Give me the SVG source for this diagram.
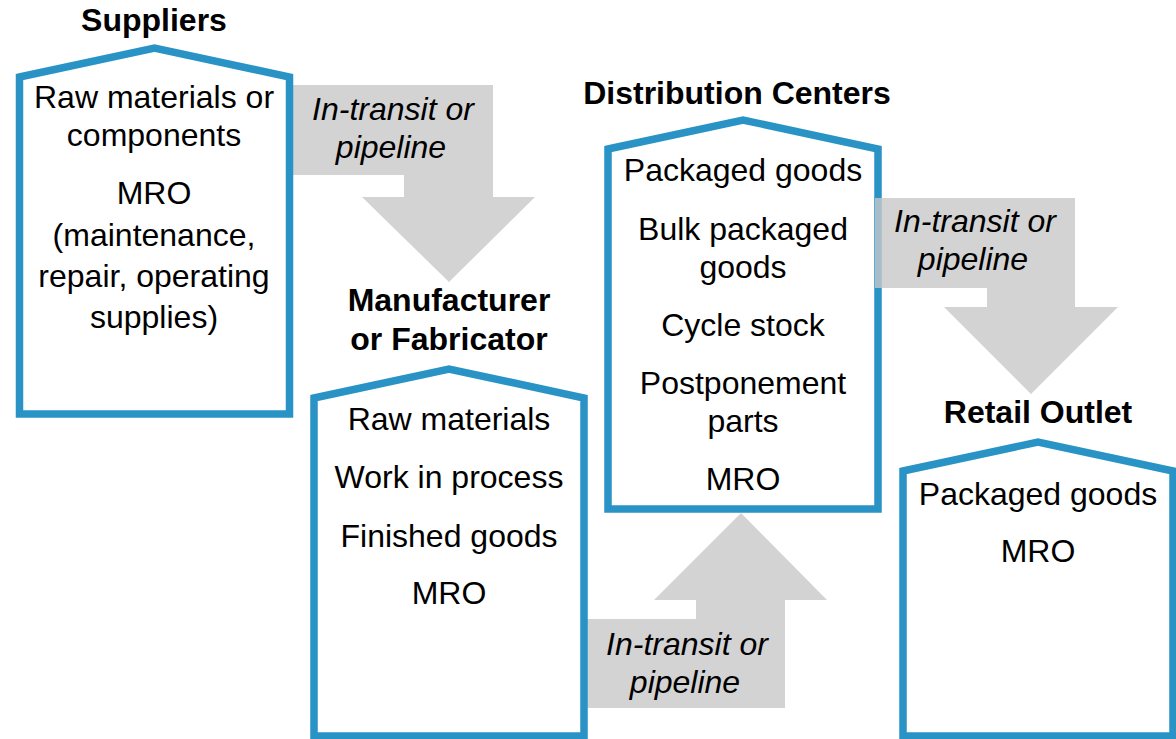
<svg xmlns="http://www.w3.org/2000/svg" width="1176" height="739" viewBox="0 0 1176 739">
<style>
.box{fill:#ffffff;stroke:#2a93c6;stroke-width:7.5;stroke-linejoin:miter}
.arrow{fill:#d3d3d3;stroke:none}
.arrow-over{fill:#c8c8c8;fill-opacity:0.8;stroke:none}
.t{font-family:"Liberation Sans",Arial,sans-serif;font-size:32px;fill:#000;text-anchor:middle}
.title{font-family:"Liberation Sans",Arial,sans-serif;font-size:32px;font-weight:bold;fill:#000;text-anchor:middle}
.lbl{font-family:"Liberation Sans",Arial,sans-serif;font-size:32px;font-style:italic;fill:#000;text-anchor:middle}
</style>
<rect width="1176" height="739" fill="#ffffff"/>
<g id="connectors">
  <g id="arrow-suppliers-manufacturer">
    <polygon class="arrow" points="290,85 493,85 493,197 535,197 449,282 362,197 404,197 404,175 290,175"/>
    <text class="lbl" x="393" y="120">In-transit or</text>
    <text class="lbl" x="391" y="158">pipeline</text>
  </g>
  <g id="arrow-manufacturer-dc">
    <polygon class="arrow" points="580,708 785,708 785,600 827,600 741,513 654,600 696,600 696,619 580,619"/>
    <text class="lbl" x="687" y="655">In-transit or</text>
    <text class="lbl" x="685" y="693">pipeline</text>
  </g>
</g>
<g id="suppliers">
  <text class="title" x="154" y="31">Suppliers</text>
  <polygon class="box" points="19.5,77 154.5,48 289.5,77 289.5,414 19.5,414"/>
  <text class="t" x="154" y="108">Raw materials or</text>
  <text class="t" x="154" y="146">components</text>
  <text class="t" x="154" y="204">MRO</text>
  <text class="t" x="154" y="246">(maintenance,</text>
  <text class="t" x="154" y="287">repair, operating</text>
  <text class="t" x="154" y="328">supplies)</text>
</g>
<g id="manufacturer">
  <text class="title" x="449" y="311">Manufacturer</text>
  <text class="title" x="449" y="350">or Fabricator</text>
  <polygon class="box" points="314,398 449,369 584,398 584,736 314,736"/>
  <text class="t" x="449" y="430">Raw materials</text>
  <text class="t" x="449" y="488">Work in process</text>
  <text class="t" x="449" y="547">Finished goods</text>
  <text class="t" x="449" y="604">MRO</text>
</g>
<g id="distribution-centers">
  <text class="title" x="737" y="104">Distribution Centers</text>
  <polygon class="box" points="608,149 743,120 878,149 878,509 608,509"/>
  <text class="t" x="743" y="181">Packaged goods</text>
  <text class="t" x="743" y="240">Bulk packaged</text>
  <text class="t" x="743" y="278">goods</text>
  <text class="t" x="743" y="336">Cycle stock</text>
  <text class="t" x="743" y="394">Postponement</text>
  <text class="t" x="743" y="432">parts</text>
  <text class="t" x="743" y="490">MRO</text>
</g>
<g id="arrow-dc-retail">
  <polygon class="arrow-over" points="875,198 1075,198 1075,307 1118,307 1031,394 944,307 987,307 987,288 875,288"/>
  <text class="lbl" x="975" y="232">In-transit or</text>
  <text class="lbl" x="973" y="270">pipeline</text>
</g>
<g id="retail-outlet">
  <text class="title" x="1038" y="423">Retail Outlet</text>
  <polygon class="box" points="903,471 1038,442 1173,471 1173,736 903,736"/>
  <text class="t" x="1038" y="505">Packaged goods</text>
  <text class="t" x="1038" y="562">MRO</text>
</g>
</svg>
